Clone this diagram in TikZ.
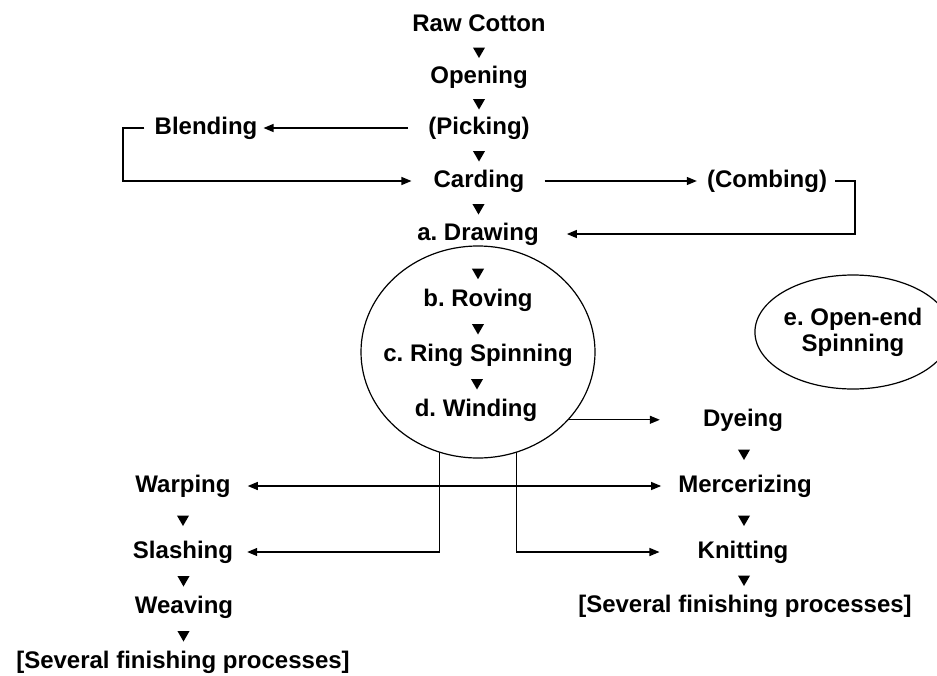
\documentclass[tikz,border=0pt]{standalone}
\usepackage{fontspec}
\setmainfont{Liberation Sans}
\frenchspacing
\usetikzlibrary{arrows.meta,shapes.geometric}
\begin{document}
\begin{tikzpicture}[x=1pt,y=-1pt,
    every node/.style={font=\bfseries\fontsize{24}{26}\selectfont},
    stage/.style={inner sep=0pt,text height=17pt,text depth=5pt},
    tri/.style={regular polygon,regular polygon sides=3,shape border rotate=180,
        fill=black,inner sep=0pt,minimum size=14pt},
    group/.style={ellipse,draw,line width=1.2pt,inner sep=0pt,outer sep=0pt},
    arr/.style={line width=1.2pt,-{Triangle[length=10pt,width=8pt]}},
    arrs/.style={line width=1.2pt,{Triangle[length=10pt,width=8pt]}-{Triangle[length=10pt,width=8pt]}}]
    \useasboundingbox (0,0) rectangle (937,675);
    % main line, top to bottom
    \node[stage] (raw) at (479,25) {Raw Cotton};
    \node[stage] (opening) at (479,77) {Opening};
    \node[stage] (picking) at (479,128) {(Picking)};
    \node[stage] (carding) at (479,181) {Carding};
    \node[stage] (drawing) at (478,234) {a. Drawing};
    \node[stage] (blending) at (206,128) {Blending};
    \node[stage] (combing) at (767,181) {(Combing)};
    \node[group,minimum width=234pt,minimum height=212pt] (spin) at (478,352) {};
    \node[stage] (roving) at (478,300) {b. Roving};
    \node[stage] (ringspin) at (478,355) {c. Ring Spinning};
    \node[stage] (winding) at (476,410) {d. Winding};
    \node[group,minimum width=166pt,minimum height=114pt,align=center] (openend) at (853,332) {e. Open-end\\Spinning};
    % knitting branch
    \node[stage] (dyeing) at (743,420) {Dyeing};
    \node[stage] (mercer) at (745,486) {Mercerizing};
    \node[stage] (knitting) at (743,552) {Knitting};
    \node[stage] (finR) at (745,606) {[Several finishing processes]};
    % weaving branch
    \node[stage] (warping) at (183,486) {Warping};
    \node[stage] (slashing) at (183,552) {Slashing};
    \node[stage] (weaving) at (184,607) {Weaving};
    \node[stage] (finL) at (183,662) {[Several finishing processes]};
    \coordinate (bl) at (123,128);
    \coordinate (cr) at (855,181);
    % small triangles between the steps
    \path (raw) -- node[tri] {} (opening);
    \path (opening) -- node[tri] {} (picking);
    \path (picking) -- node[tri] {} (carding);
    \path (carding) -- node[tri] {} (drawing);
    \path (drawing) -- node[tri,pos=.62] {} (roving);
    \path (roving) -- node[tri] {} (ringspin);
    \path (ringspin) -- node[tri] {} (winding);
    \path (dyeing) -- node[tri] {} (mercer);
    \path (mercer) -- node[tri] {} (knitting);
    \path (knitting) -- node[tri] {} (finR);
    \path (warping) -- node[tri] {} (slashing);
    \path (slashing) -- node[tri] {} (weaving);
    \path (weaving) -- node[tri] {} (finL);
    % connectors
    \draw[arr,shorten <=20pt,shorten >=6pt] (picking) -- (blending);
    \draw[arr] ([xshift=-10pt]blending.west) -- (bl) |- ([xshift=-22pt]carding.west);
    \draw[arr,shorten <=20pt,shorten >=10pt] (carding) -- (combing);
    \draw[arr] ([xshift=8pt]combing.east) -- (cr) |- ([xshift=28pt]drawing.east);
    \draw[arr] (spin.-37) -- ([xshift=-43pt]dyeing.west |- spin.-37);
    \draw[arrs,shorten <=17pt,shorten >=17pt] (warping) -- (mercer);
    \draw[arr] (spin.-111) |- ([xshift=14pt]slashing.east);
    \draw[arr] (spin.-69) |- ([xshift=-38pt]knitting.west);
\end{tikzpicture}
\end{document}
